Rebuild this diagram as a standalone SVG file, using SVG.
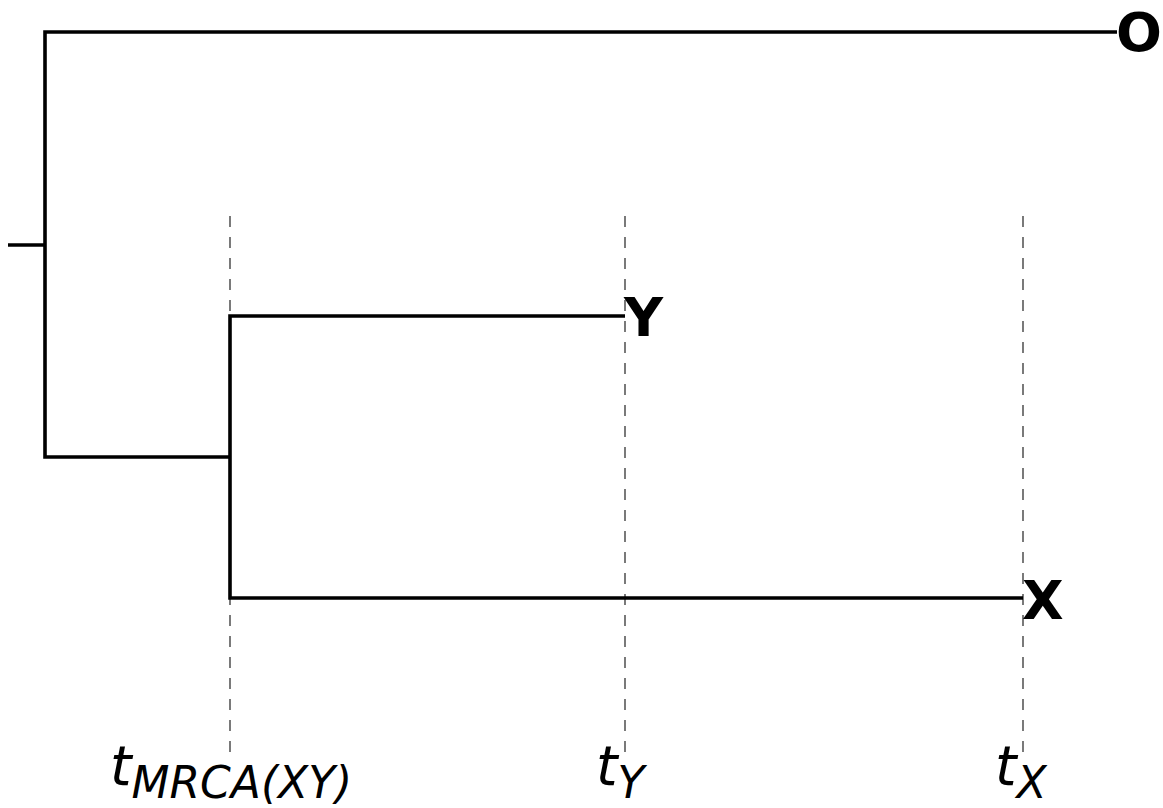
<svg xmlns="http://www.w3.org/2000/svg" width="1163" height="808" viewBox="0 0 1163 808">
<style>
.br{fill:none;stroke:#000;stroke-width:3.6;stroke-linecap:butt;stroke-linejoin:miter}
.dash{fill:none;stroke:#333;stroke-width:1.3;stroke-dasharray:11 10}
.leaf{font-family:"DejaVu Sans",sans-serif;font-weight:bold;font-size:54px;fill:#000}
.t{font-family:"DejaVu Sans",sans-serif;font-style:italic;font-size:55px;fill:#000}
.sub{font-family:"DejaVu Sans",sans-serif;font-style:italic;font-size:44px;fill:#000}
</style>
<rect width="1163" height="808" fill="#fff"/>
<g id="guides">
<line class="dash" x1="230" y1="216" x2="230" y2="756"/>
<line class="dash" x1="625" y1="216" x2="625" y2="756"/>
<line class="dash" x1="1023" y1="216" x2="1023" y2="756"/>
</g>
<g id="connectors">
<path class="br" d="M8 245H45"/>
<path class="br" d="M1117 32H45V457H230"/>
<path class="br" d="M625 316H230V598H1023"/>
</g>
<g id="node-O"><text class="leaf" x="1116" y="51">O</text></g>
<g id="node-Y"><text class="leaf" x="624" y="336">Y</text></g>
<g id="node-X"><text class="leaf" x="1022" y="619">X</text></g>
<g id="label-tmrca"><text x="110" y="785"><tspan class="t">t</tspan><tspan class="sub" dy="13">MRCA(XY)</tspan></text></g>
<g id="label-ty"><text x="596" y="785"><tspan class="t">t</tspan><tspan class="sub" dy="13">Y</tspan></text></g>
<g id="label-tx"><text x="995" y="785"><tspan class="t">t</tspan><tspan class="sub" dy="13">X</tspan></text></g>
</svg>
